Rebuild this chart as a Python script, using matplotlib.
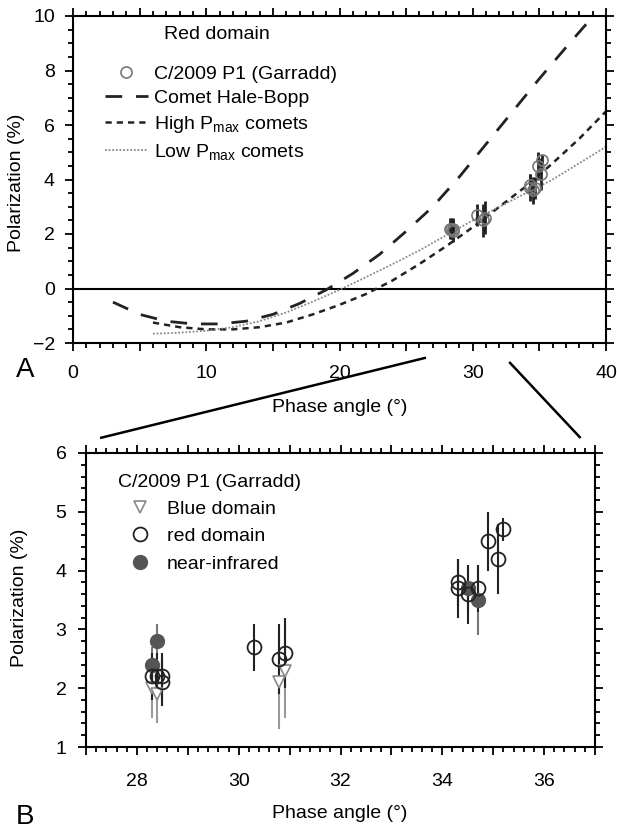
import matplotlib
matplotlib.use("Agg")
import matplotlib.pyplot as plt
from matplotlib.ticker import MultipleLocator, FuncFormatter
from matplotlib.lines import Line2D

plt.rcParams['font.family'] = ['Liberation Sans', 'DejaVu Sans']
plt.rcParams['mathtext.fontset'] = 'custom'
plt.rcParams['mathtext.rm'] = 'Liberation Sans'
plt.rcParams['mathtext.it'] = 'Liberation Sans:italic'

# --- data: model phase curves (panel A) ---
hb_x = [3, 5, 7, 9, 11, 13, 15, 17, 19, 21, 23, 25, 27, 29, 31, 33, 35, 37, 38.6]
hb_y = [-0.5, -0.95, -1.2, -1.3, -1.3, -1.2, -0.95, -0.55, -0.05, 0.55, 1.25, 2.1, 3.0, 4.1, 5.3, 6.5, 7.7, 8.85, 9.75]

hi_x = [6, 8, 10, 12, 14, 16, 18, 20, 22, 24, 26, 28, 30, 32, 34, 36, 38, 40]
hi_y = [-1.25, -1.42, -1.5, -1.5, -1.42, -1.25, -0.95, -0.6, -0.2, 0.3, 0.9, 1.55, 2.25, 3.0, 3.75, 4.6, 5.5, 6.5]

lo_x = [6, 8, 10, 12, 14, 16, 18, 20, 22, 24, 26, 28, 30, 32, 34, 36, 38, 40]
lo_y = [-1.66, -1.62, -1.55, -1.42, -1.2, -0.88, -0.48, -0.05, 0.42, 0.9, 1.4, 1.95, 2.5, 3.0, 3.5, 4.0, 4.6, 5.2]

# --- data: Garradd observations ---
red_x = [28.3, 28.4, 28.5, 28.5, 30.3, 30.8, 30.9, 34.3, 34.3, 34.5, 34.7, 34.9, 35.1, 35.2]
red_y = [2.2, 2.2, 2.2, 2.1, 2.7, 2.5, 2.6, 3.8, 3.7, 3.6, 3.7, 4.5, 4.2, 4.7]
red_err = [0.4, 0.4, 0.4, 0.4, 0.4, 0.6, 0.6, 0.4, 0.5, 0.5, 0.4, 0.5, 0.6, 0.2]

blue_x = [28.3, 28.4, 30.8, 30.9]
blue_y = [2.0, 1.9, 2.1, 2.3]
blue_err = [0.5, 0.5, 0.8, 0.8]

nir_x = [28.3, 28.4, 34.5, 34.7]
nir_y = [2.4, 2.8, 3.7, 3.5]
nir_err = [0.3, 0.3, 0.4, 0.6]

W, H = 617, 832
FS = 14


def fx(px):
    return px / W


def fy(py):
    return 1 - py / H


def style_axes(ax, pad_x, pad_y):
    for s in ax.spines.values():
        s.set_linewidth(1.5)
    ax.tick_params(which='both', direction='out', top=True, right=True,
                   labeltop=False, labelright=False, width=1.3, labelsize=FS)
    ax.tick_params(which='major', length=6)
    ax.tick_params(which='minor', length=3.5)
    ax.tick_params(axis='x', pad=pad_x)
    ax.tick_params(axis='y', pad=pad_y)


fig = plt.figure(figsize=(W / 100, H / 100), dpi=100)

# ---------------- panel A ----------------
ax1 = fig.add_axes([fx(73), fy(343), fx(606) - fx(73), fy(16) - fy(343)])
ax1.set_xlim(0, 40)
ax1.set_ylim(-2, 10)
ax1.axhline(0, color='black', lw=1.5)
ax1.plot(hb_x, hb_y, color='#222222', lw=2, linestyle=(0, (6, 5)))
ax1.plot(hi_x, hi_y, color='#222222', lw=1.8, linestyle=(0, (2.5, 2)))
ax1.plot(lo_x, lo_y, color='#888888', lw=1.3, linestyle=(0, (1, 1)))
ax1.errorbar(red_x, red_y, yerr=red_err, fmt='none', ecolor='#222222', elinewidth=2)
ax1.plot(red_x, red_y, 'o', mfc='none', mec='#777777', ms=8, mew=1.2)

ax1.xaxis.set_major_locator(MultipleLocator(5))
ax1.xaxis.set_minor_locator(MultipleLocator(1))
ax1.xaxis.set_major_formatter(FuncFormatter(lambda v, p: '%d' % v if v % 10 == 0 else ''))
ax1.yaxis.set_major_locator(MultipleLocator(2))
ax1.yaxis.set_minor_locator(MultipleLocator(0.5))
style_axes(ax1, 10, 7)

ax1.text(0.17, 0.942, 'Red domain', transform=ax1.transAxes, fontsize=FS, va='center')
handles1 = [
    Line2D([], [], ls='none', marker='o', mfc='none', mec='#777777', ms=8, mew=1.2),
    Line2D([], [], color='#222222', lw=2, linestyle=(0, (6, 5))),
    Line2D([], [], color='#222222', lw=1.8, linestyle=(0, (2.5, 2))),
    Line2D([], [], color='#888888', lw=1.3, linestyle=(0, (1, 1))),
]
labels1 = ['C/2009 P1 (Garradd)', 'Comet Hale-Bopp',
           r'High P$_{\mathrm{max}}$ comets', r'Low P$_{\mathrm{max}}$ comets']
ax1.legend(handles1, labels1, loc='upper left', bbox_to_anchor=(0.06, 0.85),
           frameon=False, fontsize=FS, handlelength=2.2, handletextpad=0.3,
           labelspacing=0.35, borderpad=0, borderaxespad=0)

# ---------------- panel B ----------------
ax2 = fig.add_axes([fx(86), fy(747), fx(595) - fx(86), fy(453) - fy(747)])
ax2.set_xlim(27, 37)
ax2.set_ylim(1, 6)
ax2.errorbar(blue_x, blue_y, yerr=blue_err, fmt='v', mfc='white', mec='#888888',
             ecolor='#999999', elinewidth=1.5, ms=9, mew=1.2)
ax2.errorbar(nir_x, nir_y, yerr=nir_err, fmt='o', mfc='#555555', mec='#555555',
             ecolor='#777777', elinewidth=1.5, ms=10)
ax2.errorbar(red_x, red_y, yerr=red_err, fmt='o', mfc='none', mec='#222222',
             ecolor='#222222', elinewidth=1.5, ms=10, mew=1.3)

ax2.xaxis.set_major_locator(MultipleLocator(1))
ax2.xaxis.set_minor_locator(MultipleLocator(0.2))
ax2.xaxis.set_major_formatter(FuncFormatter(lambda v, p: '%d' % v if round(v) % 2 == 0 else ''))
ax2.yaxis.set_major_locator(MultipleLocator(1))
ax2.yaxis.set_minor_locator(MultipleLocator(0.2))
style_axes(ax2, 13, 8)

handles2 = [
    Line2D([], [], ls='none', marker='v', mfc='white', mec='#888888', ms=9, mew=1.2),
    Line2D([], [], ls='none', marker='o', mfc='none', mec='#222222', ms=10, mew=1.3),
    Line2D([], [], ls='none', marker='o', mfc='#555555', mec='#555555', ms=10),
]
ax2.legend(handles2, ['Blue domain', 'red domain', 'near-infrared'],
           title='C/2009 P1 (Garradd)', title_fontsize=FS, alignment='left',
           loc='upper left', bbox_to_anchor=(0.063, 0.93), frameon=False,
           fontsize=FS, handlelength=2.3, handletextpad=0.2,
           labelspacing=0.5, borderpad=0, borderaxespad=0)

# ---------------- labels ----------------
fig.text(fx(340), fy(407), 'Phase angle (°)', fontsize=FS, ha='center', va='center')
fig.text(fx(340), fy(813), 'Phase angle (°)', fontsize=FS, ha='center', va='center')
fig.text(fx(17), fy(183), 'Polarization (%)', fontsize=FS, ha='center', va='center', rotation=90)
fig.text(fx(20), fy(598), 'Polarization (%)', fontsize=FS, ha='center', va='center', rotation=90)
fig.text(fx(25), fy(370), 'A', fontsize=20, ha='center', va='center')
fig.text(fx(25), fy(817), 'B', fontsize=20, ha='center', va='center')

# zoom connector lines between the two panels (data points -> figure fraction)
to_fig = fig.transFigure.inverted()
for (xa, ya), (xb, yb) in [((26.4, -2.55), (27.3, 6.26)), ((32.8, -2.73), (36.7, 6.27))]:
    pa = to_fig.transform(ax1.transData.transform((xa, ya)))
    pb = to_fig.transform(ax2.transData.transform((xb, yb)))
    fig.add_artist(Line2D([pa[0], pb[0]], [pa[1], pb[1]], transform=fig.transFigure,
                          color='black', lw=1.8, clip_on=False))

fig.savefig('out.png', dpi=100)
